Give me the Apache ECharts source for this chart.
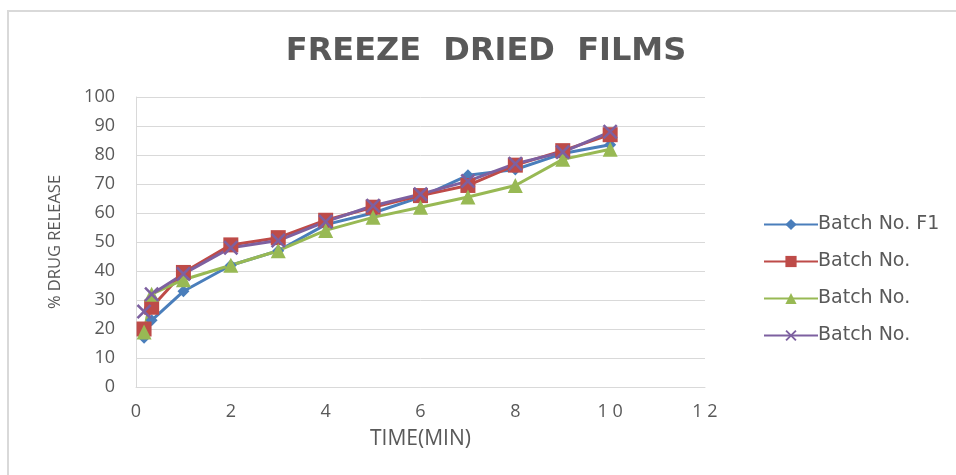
<!DOCTYPE html>
<html>
<head>
<meta charset="utf-8">
<script src="https://cdn.jsdelivr.net/npm/echarts@6/dist/echarts.min.js"></script>
<style>
html,body{margin:0;padding:0;background:#fff;}
#chart{width:956px;height:475px;}
</style>
</head>
<body>
<div id="chart"></div>
<script>
var titleText = 'FREEZE  DRIED  FILMS';
var xAxisName = 'TIME(MIN)';
var yAxisName = '% DRUG RELEASE';
var timeMin = [0.17, 0.33, 1, 2, 3, 4, 5, 6, 7, 8, 9, 10];
var seriesIds = ['s1', 's2', 's3', 's4'];
var legendLabels = ['Batch No. F1', 'Batch No.', 'Batch No.', 'Batch No.'];
var batchF1 = [17, 23, 33, 42, 47, 56, 60, 65.5, 73, 75, 80.5, 83.5];
var batch2 = [20, 27.5, 39.5, 49, 51.5, 57.5, 62, 66, 69.5, 76.5, 81.5, 87];
var batch3 = [19, 32, 37, 42, 47, 54, 58.5, 62, 65.5, 69.5, 78.5, 82];
var batch4 = [26, 32, 39, 48, 50.5, 57, 62.5, 66.5, 71, 77, 81, 88];
var xTicks = [0, 2, 4, 6, 8, 10, 12];

var colors = ['#4A7EBB', '#BE4B48', '#98B954', '#7D60A0'];
var crossPath = 'path://M0,1.2 L1.2,0 L5,3.8 L8.8,0 L10,1.2 L6.2,5 L10,8.8 L8.8,10 L5,6.2 L1.2,10 L0,8.8 L3.8,5 Z';
var symbols = ['diamond', 'rect', 'triangle', crossPath];
var symbolSizes = [12, 15, 15, 15];
var allData = [batchF1, batch2, batch3, batch4];

function pairs(vals) {
  return timeMin.map(function (t, i) { return [t, vals[i]]; });
}

var series = allData.map(function (vals, k) {
  return {
    name: seriesIds[k],
    type: 'line',
    data: pairs(vals),
    symbol: symbols[k],
    symbolSize: symbolSizes[k],
    showAllSymbol: true,
    color: colors[k],
    lineStyle: { width: 3, color: colors[k] },
    itemStyle: { color: colors[k] },
    emphasis: { disabled: true },
    animation: false
  };
});

var chart = echarts.init(document.getElementById('chart'), null, { renderer: 'canvas' });
chart.setOption({
  backgroundColor: '#ffffff',
  animation: false,
  title: {
    text: titleText,
    left: 481,
    textAlign: 'center',
    top: 31,
    textStyle: { fontFamily: 'DejaVu Sans', fontWeight: 'bold', fontSize: 32, color: '#595959' }
  },
  legend: {
    orient: 'vertical',
    left: 758,
    top: 210,
    itemWidth: 54,
    itemHeight: 14,
    itemGap: 18,
    data: seriesIds,
    formatter: function (name) { return legendLabels[seriesIds.indexOf(name)]; },
    textStyle: { fontFamily: 'DejaVu Sans', fontSize: 19, color: '#595959', padding: [0, 0, 0, -5] }
  },
  grid: { left: 136, right: 251, top: 97, bottom: 88, containLabel: false },
  xAxis: {
    type: 'value',
    min: 0,
    max: 12,
    interval: 2,
    name: xAxisName,
    nameLocation: 'middle',
    nameGap: 42,
    nameTextStyle: { fontFamily: 'Open Sans', fontSize: 21, color: '#595959' },
    axisLine: { show: true, lineStyle: { color: '#D9D9D9', width: 1 } },
    axisTick: { show: false },
    splitLine: { show: false },
    axisLabel: {
      fontFamily: 'Open Sans', fontSize: 18, color: '#595959', margin: 16,
      formatter: function (v) { return xTicks.indexOf(v) >= 0 ? String(v).split('').join(' ') : ''; }
    }
  },
  yAxis: {
    type: 'value',
    min: 0,
    max: 100,
    interval: 10,
    name: yAxisName,
    nameLocation: 'middle',
    nameGap: 72,
    nameRotate: 90,
    nameTextStyle: { fontFamily: 'Open Sans', fontSize: 16.5, color: '#595959' },
    axisLine: { show: true, lineStyle: { color: '#D9D9D9', width: 1 } },
    axisTick: { show: false },
    splitLine: { show: true, lineStyle: { color: '#D9D9D9', width: 1 } },
    axisLabel: { fontFamily: 'Open Sans', fontSize: 18, color: '#595959', margin: 21 }
  },
  graphic: [{
    type: 'rect',
    shape: { x: 8, y: 11, width: 980, height: 500 },
    style: { fill: 'none', stroke: '#D9D9D9', lineWidth: 2 },
    silent: true
  }],
  series: series
});
</script>
</body>
</html>
